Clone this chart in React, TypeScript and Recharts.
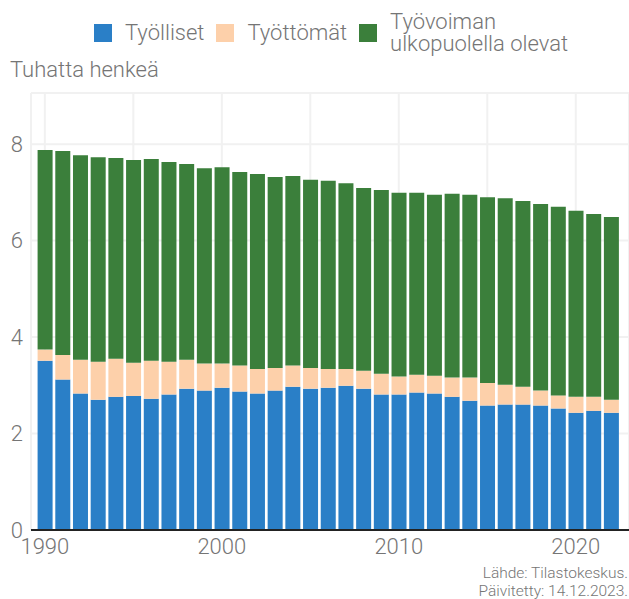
import { BarChart, Bar, XAxis, YAxis, CartesianGrid } from "recharts";

const FONT = "Roboto, 'Liberation Sans', sans-serif";
const TEXT = "#757575";

const years = [
  1990, 1991, 1992, 1993, 1994, 1995, 1996, 1997, 1998, 1999, 2000,
  2001, 2002, 2003, 2004, 2005, 2006, 2007, 2008, 2009, 2010, 2011,
  2012, 2013, 2014, 2015, 2016, 2017, 2018, 2019, 2020, 2021, 2022,
];
const employed = [
  3.51, 3.12, 2.83, 2.7, 2.76, 2.78, 2.72, 2.81, 2.93, 2.89, 2.95,
  2.87, 2.83, 2.89, 2.97, 2.93, 2.95, 2.99, 2.93, 2.81, 2.81, 2.85,
  2.83, 2.76, 2.68, 2.58, 2.6, 2.6, 2.58, 2.52, 2.43, 2.47, 2.43,
];
const unemployed = [
  0.23, 0.51, 0.7, 0.79, 0.79, 0.69, 0.79, 0.68, 0.6, 0.56, 0.5,
  0.54, 0.51, 0.47, 0.44, 0.43, 0.39, 0.35, 0.37, 0.43, 0.37, 0.37,
  0.37, 0.4, 0.48, 0.47, 0.41, 0.37, 0.31, 0.27, 0.33, 0.29, 0.27,
];
const outside = [
  4.14, 4.23, 4.24, 4.24, 4.16, 4.2, 4.18, 4.14, 4.06, 4.05, 4.07,
  4.01, 4.04, 3.96, 3.93, 3.9, 3.9, 3.85, 3.79, 3.81, 3.81, 3.77,
  3.75, 3.81, 3.79, 3.85, 3.87, 3.85, 3.87, 3.91, 3.86, 3.79, 3.79,
];

const yTicks = [0, 2, 4, 6, 8];
const gridYears = [1990, 1995, 2000, 2005, 2010, 2015, 2020];
const labelYears = [1990, 2000, 2010, 2020];

const series = [
  { key: "employed", name: "Työlliset", color: "#2a7fc7" },
  { key: "unemployed", name: "Työttömät", color: "#fdd0aa" },
  { key: "outside", name: "Työvoiman ulkopuolella olevat", color: "#3b7f3b" },
];

const data = years.map((year, i) => ({
  year,
  employed: employed[i],
  unemployed: unemployed[i],
  outside: outside[i],
}));

function LegendBox() {
  return (
    <div
      style={{
        position: "absolute", left: 94, top: 11, display: "flex", alignItems: "center",
        fontFamily: FONT, fontWeight: 300, fontSize: 22, color: TEXT, lineHeight: "22px",
      }}
    >
      {series.map((s) => (
        <div key={s.key} style={{ display: "flex", alignItems: "center", marginRight: 12 }}>
          <div style={{ width: 18, height: 18, background: s.color, marginRight: 13 }} />
          <div style={{ maxWidth: s.key === "outside" ? 200 : undefined }}>{s.name}</div>
        </div>
      ))}
    </div>
  );
}

export default function App() {
  const tick = { fill: TEXT, fontSize: 22, fontFamily: FONT, fontWeight: 300 };
  return (
    <div style={{ position: "absolute", left: 0, top: 0, width: 629, height: 599, background: "#fff" }}>
      <LegendBox />
      <div
        style={{
          position: "absolute", left: 10, top: 57, fontFamily: FONT, fontWeight: 300,
          fontSize: 22, color: TEXT,
        }}
      >
        Tuhatta henkeä
      </div>
      <BarChart
        width={629}
        height={599}
        data={data}
        margin={{ top: 93, right: 0, bottom: 39, left: 0 }}
        barCategoryGap="9%"
      >
        <CartesianGrid stroke="#f1f1f1" strokeWidth={2} />
        <XAxis
          dataKey="year"
          type="category"
          ticks={gridYears}
          interval={0}
          tickFormatter={(v) => (labelYears.includes(Number(v)) ? String(v) : "")}
          tickLine={false}
          axisLine={{ stroke: "#222", strokeWidth: 2 }}
          padding={{ left: 5, right: 9 }}
          height={30}
          tick={tick}
        />
        <YAxis
          domain={[0, 9.06]}
          ticks={yTicks}
          width={31}
          axisLine={false}
          tickLine={false}
          allowDataOverflow
          tick={tick}
        />
        {series.map((s) => (
          <Bar key={s.key} dataKey={s.key} name={s.name} stackId="a" fill={s.color} isAnimationActive={false} />
        ))}
      </BarChart>
      <div
        style={{
          position: "absolute", right: 1, top: 564, textAlign: "right",
          fontFamily: FONT, fontWeight: 300, fontSize: 15.5, color: TEXT, lineHeight: "18px",
        }}
      >
        Lähde: Tilastokeskus.
        <br />
        Päivitetty: 14.12.2023.
      </div>
    </div>
  );
}
